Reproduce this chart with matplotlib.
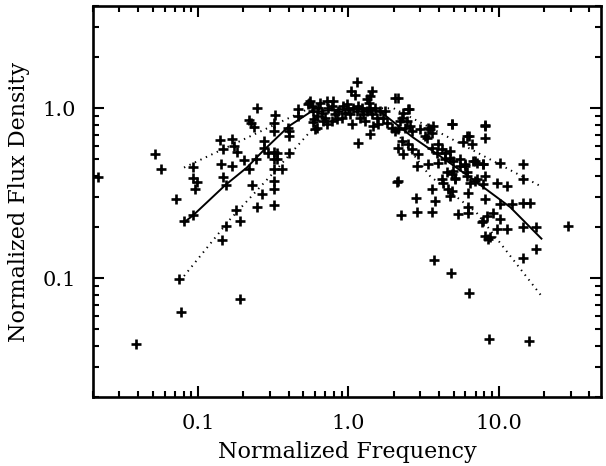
import matplotlib
matplotlib.use("Agg")
import matplotlib.pyplot as plt
from matplotlib.ticker import FixedLocator, FixedFormatter, NullFormatter, LogLocator

# ---------------- data ----------------
freq_left = [0.0217, 0.0517, 0.0567, 0.071, 0.0806, 0.0746, 0.0766, 0.19, 0.093, 0.093,
             0.093, 0.098, 0.0953, 0.14, 0.147, 0.167, 0.173, 0.181, 0.141, 0.167,
             0.147, 0.153, 0.202, 0.217, 0.245, 0.219, 0.235, 0.225, 0.273, 0.273,
             0.241, 0.229, 0.267, 0.248, 0.179, 0.153, 0.145, 0.19, 0.326, 0.32,
             0.32, 0.293, 0.32, 0.336, 0.32, 0.333, 0.32, 0.36, 0.32, 0.32,
             0.32, 0.402, 0.398, 0.402, 0.402, 0.464, 0.464, 0.548, 0.0387]
flux_left = [0.394, 0.536, 0.438, 0.294, 0.217, 0.0996, 0.0634, 0.0752, 0.235, 0.454,
             0.389, 0.368, 0.334, 0.648, 0.574, 0.664, 0.6, 0.556, 0.473, 0.458,
             0.394, 0.352, 0.494, 0.438, 1.0, 0.85, 0.78, 0.816, 0.642, 0.587,
             0.506, 0.352, 0.315, 0.263, 0.252, 0.203, 0.167, 0.217, 0.913, 0.824,
             0.735, 0.544, 0.553, 0.544, 0.506, 0.501, 0.442, 0.442, 0.374, 0.337,
             0.271, 0.544, 0.763, 0.687, 0.732, 0.996, 0.901, 1.08, 0.041]

freq_mid = [0.555, 0.569, 0.583, 0.63, 0.615, 0.664, 0.716, 0.734, 0.698, 0.773,
            0.813, 0.855, 0.923, 0.948, 0.901, 0.997, 1.023, 1.076, 1.162, 1.134,
            1.224, 1.254, 1.32, 1.39, 1.426, 1.5, 1.54, 1.462, 1.578, 1.703,
            1.749, 1.795, 1.937, 1.04, 1.105, 1.426, 1.39, 1.32, 1.368, 1.134,
            2.04, 0.599, 0.716, 1.05, 1.39, 1.162, 0.541, 0.646, 0.792, 0.835,
            0.773, 0.973, 1.192, 1.287, 1.618, 2.04, 2.2, 0.68, 0.59, 0.613, 0.58]
flux_mid = [1.104, 1.03, 0.964, 1.01, 0.901, 0.944, 1.104, 1.01, 0.882, 1.03,
            0.922, 0.964, 1.03, 0.944, 0.882, 0.987, 0.922, 1.01, 1.03, 0.964,
            1.01, 0.922, 0.964, 1.01, 0.922, 1.01, 0.882, 0.787, 0.805, 0.882,
            0.964, 0.824, 0.77, 1.264, 1.197, 1.264, 1.181, 1.13, 1.08, 1.436,
            1.156, 0.752, 0.805, 0.805, 0.71, 0.628, 1.056, 1.08, 1.104, 0.861,
            0.842, 1.056, 0.882, 0.842, 0.964, 0.735, 0.842, 0.842, 0.861, 0.77, 0.827]

freq_right = [2.14, 2.5, 2.31, 2.26, 2.44, 2.56, 2.37, 2.14, 2.63, 2.99,
              3.39, 3.66, 3.57, 3.31, 2.26, 2.5, 2.14, 2.63, 2.31, 2.91,
              3.57, 3.95, 4.17, 3.86, 4.38, 4.86, 6.1, 6.59, 8.08, 8.08,
              5.51, 2.84, 3.39, 3.95, 5.95, 4.17, 5.11, 4.73, 4.98, 6.93,
              7.87, 6.1, 6.93, 2.14,
              4.73, 4.38, 4.98, 5.51, 5.95, 6.76, 7.11, 7.87, 10.2, 14.5,
              4.5, 4.86, 5.11, 6.1, 6.42, 7.11, 8.08, 7.87, 4.27, 4.61,
              4.86, 4.73, 6.26, 9.67, 11.3, 14.5, 8.08, 10.2, 12.2, 14.5,
              16.1, 5.37, 6.26, 6.26, 9.18, 8.3, 7.87, 7.69, 10.2, 9.67,
              11.3, 8.08, 8.73, 8.51, 14.5, 17.8, 17.8, 14.5,
              28.7, 3.72, 4.8, 6.33, 8.55, 15.9, 2.11, 2.22, 2.81, 2.87,
              3.57, 3.57, 3.76, 4.86, 8.08, 2.51, 6.37, 5.8, 3.48, 3.22]
flux_right = [1.156, 0.987, 0.944, 0.882, 0.842, 0.787, 0.77, 0.752, 0.735, 0.752,
              0.77, 0.787, 0.719, 0.673, 0.642, 0.614, 0.587, 0.574, 0.536, 0.536,
              0.587, 0.614, 0.574, 0.549, 0.549, 0.805, 0.687, 0.614, 0.787, 0.672,
              0.458, 0.458, 0.469, 0.479, 0.469, 0.382, 0.382, 0.513, 0.428, 0.49,
              0.469, 0.4, 0.374, 0.374,
              0.561, 0.501, 0.49, 0.501, 0.458, 0.49, 0.479, 0.469, 0.479, 0.469,
              0.419, 0.409, 0.391, 0.419, 0.365, 0.382, 0.4, 0.357, 0.365, 0.334,
              0.326, 0.305, 0.319, 0.365, 0.349, 0.382, 0.292, 0.272, 0.272, 0.279,
              0.279, 0.238, 0.243, 0.261, 0.243, 0.232, 0.217, 0.213, 0.222, 0.194,
              0.194, 0.177, 0.176, 0.17, 0.199, 0.2, 0.148, 0.132,
              0.203, 0.128, 0.107, 0.0824, 0.0438, 0.0428, 0.368, 0.235, 0.298, 0.245,
              0.245, 0.334, 0.283, 0.813, 0.794, 0.996, 0.687, 0.634, 0.752, 0.687]

# median fit (solid) and envelope (dotted)
fit_x = [0.0806, 0.0929, 0.151, 0.211, 0.27, 0.403, 0.555, 1.02, 1.62, 2.68, 4.06, 6.42, 11.9, 19.2]
fit_y = [0.213, 0.235, 0.352, 0.448, 0.561, 0.787, 0.947, 1.0, 0.96, 0.675, 0.524, 0.393, 0.262, 0.171]
upper_x = [0.0806, 0.55, 2.0, 19.2]
upper_y = [0.448, 1.0, 1.0, 0.346]
lower_x = [0.0806, 0.163, 0.333, 0.71, 1.67, 3.48, 7.11, 19.2]
lower_y = [0.103, 0.222, 0.438, 0.93, 0.93, 0.4, 0.243, 0.0787]

xtick_vals = [0.1, 1.0, 10.0]
xtick_labels = ["0.1", "1.0", "10.0"]
ytick_vals = [0.1, 1.0]
ytick_labels = ["0.1", "1.0"]

# ---------------- figure ----------------
fig = plt.figure(figsize=(6.06, 4.66), dpi=100)
ax = fig.add_axes([93 / 606, 1 - 397 / 466, (601 - 93) / 606, (397 - 6) / 466])

fx = freq_left + freq_mid + freq_right
fy = flux_left + flux_mid + flux_right
ax.plot(fx, fy, linestyle="none", marker="+", color="black", markersize=7, markeredgewidth=1.9)

ax.plot(fit_x, fit_y, color="black", linewidth=1.4)
ax.plot(upper_x, upper_y, color="black", linewidth=1.4, linestyle=(0, (0.7, 2.4)))
ax.plot(lower_x, lower_y, color="black", linewidth=1.4, linestyle=(0, (0.7, 2.4)))

ax.set_xscale("log")
ax.set_yscale("log")
ax.set_xlim(0.02, 47.8)
ax.set_ylim(0.02, 4.0)

ax.xaxis.set_major_locator(FixedLocator(xtick_vals))
ax.xaxis.set_major_formatter(FixedFormatter(xtick_labels))
ax.yaxis.set_major_locator(FixedLocator(ytick_vals))
ax.yaxis.set_major_formatter(FixedFormatter(ytick_labels))
ax.xaxis.set_minor_locator(LogLocator(base=10, subs=range(2, 10), numticks=20))
ax.yaxis.set_minor_locator(LogLocator(base=10, subs=range(2, 10), numticks=20))
ax.xaxis.set_minor_formatter(NullFormatter())
ax.yaxis.set_minor_formatter(NullFormatter())

font = {"family": "DejaVu Serif", "size": 16}
ax.tick_params(which="both", direction="in", top=True, right=True, width=1.5, colors="black")
ax.tick_params(which="major", length=8, pad=12, labelsize=15)
ax.tick_params(which="minor", length=4)
for lab in ax.get_xticklabels() + ax.get_yticklabels():
    lab.set_fontfamily("DejaVu Serif")
for sp in ax.spines.values():
    sp.set_linewidth(1.9)

ax.set_xlabel("Normalized Frequency", fontdict=font, labelpad=6)
ax.set_ylabel("Normalized Flux Density", fontdict=font, labelpad=9)

fig.savefig("out.png", dpi=100)
